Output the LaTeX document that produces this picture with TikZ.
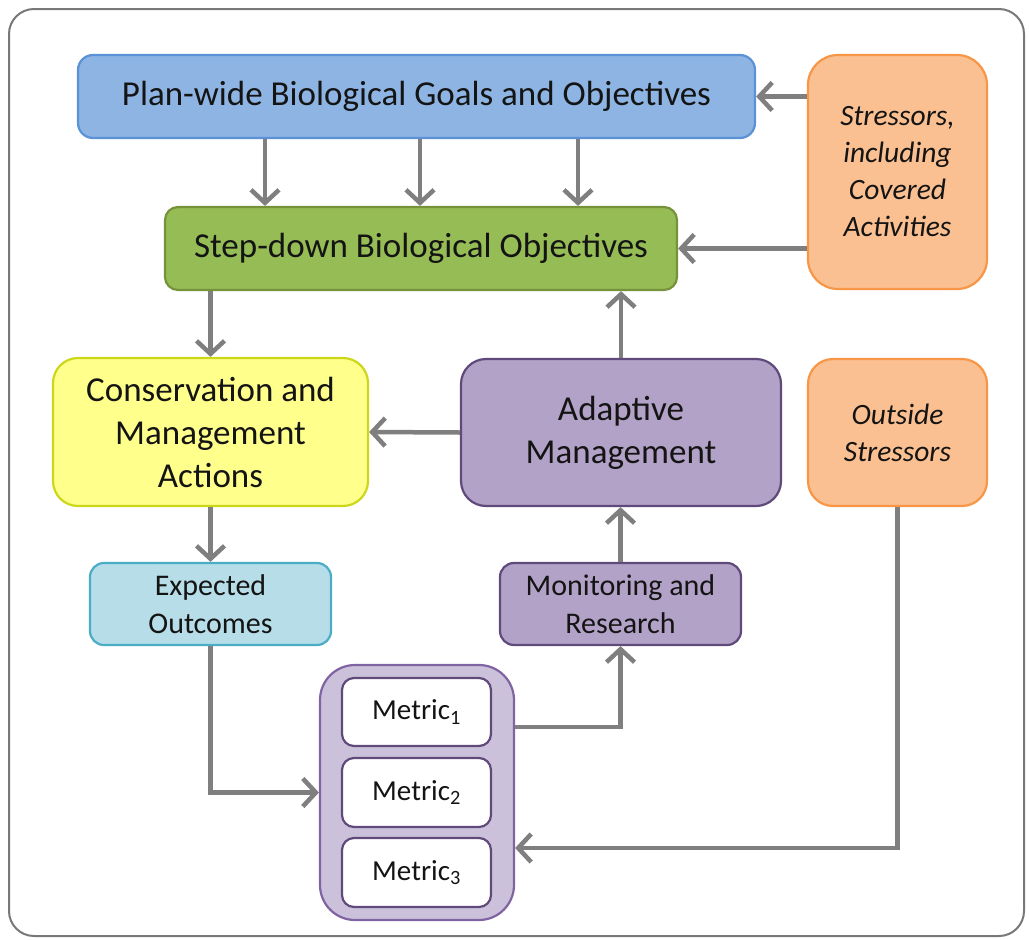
\documentclass[tikz,border=0pt]{standalone}
\usepackage{fontspec}
\setmainfont{Carlito}
\usetikzlibrary{arrows.meta}
\definecolor{bluefill}{RGB}{141,180,227}
\definecolor{blueline}{RGB}{90,145,215}
\definecolor{greenfill}{RGB}{150,188,85}
\definecolor{greenline}{RGB}{118,147,60}
\definecolor{orfill}{RGB}{250,192,145}
\definecolor{orline}{RGB}{247,150,70}
\definecolor{yefill}{RGB}{255,255,140}
\definecolor{yeline}{RGB}{205,215,25}
\definecolor{cyfill}{RGB}{183,222,232}
\definecolor{cyline}{RGB}{75,172,198}
\definecolor{pufill}{RGB}{179,162,199}
\definecolor{puline}{RGB}{96,74,123}
\definecolor{mtfill}{RGB}{204,193,218}
\definecolor{mtline}{RGB}{128,100,162}
\definecolor{arrgray}{RGB}{127,127,127}
\definecolor{framegray}{RGB}{120,120,120}
\definecolor{txt}{RGB}{20,20,20}
\tikzset{
  box/.style={draw, align=center, inner sep=0pt, line width=2.2pt, text=txt},
  sz/.style 2 args={minimum width=#1pt, minimum height=#2pt},
  big/.style={font=\fontsize{35}{43}\selectfont},
  mid/.style={font=\fontsize{30}{38}\selectfont},
  met/.style={font=\fontsize{29}{36}\selectfont},
  ital/.style={font=\fontsize{29.5}{37}\selectfont\itshape},
  arr/.style={draw=arrgray, line width=4.5pt, -{Straight Barb[length=13pt,width=28pt]}}
}
\begin{document}
\begin{tikzpicture}[x=1pt,y=-1pt]
\useasboundingbox (0,0) rectangle (1029,940);
\draw[framegray, line width=2pt, rounded corners=25pt] (9,9) rectangle (1024,936);

\node[box, big, fill=bluefill, draw=blueline, rounded corners=15pt, sz={677}{83}] (bl) at (416.5,96.5) {Plan-wide Biological Goals and Objectives};
\node[box, big, fill=greenfill, draw=greenline, rounded corners=13pt, sz={512}{83}] (gr) at (421,248.5) {Step-down Biological Objectives};
\node[box, ital, fill=orfill, draw=orline, rounded corners=30pt, sz={179}{234}] (o1) at (897.5,172) {Stressors,\\including\\Covered\\Activities};
\node[box, big, fill=yefill, draw=yeline, rounded corners=25pt, sz={315}{148}] (ye) at (210.5,432) {Conservation and\\Management\\Actions};
\node[box, big, fill=pufill, draw=puline, rounded corners=25pt, sz={320}{147}] (ad) at (621,432.5) {Adaptive\\Management};
\node[box, ital, fill=orfill, draw=orline, rounded corners=25pt, sz={179}{147}] (os) at (897.5,432.5) {Outside\\Stressors};
\node[box, mid, fill=cyfill, draw=cyline, rounded corners=14pt, sz={241}{82}] (ex) at (210.5,604) {Expected\\Outcomes};
\node[box, mid, fill=pufill, draw=puline, rounded corners=14pt, sz={241}{82}] (mo) at (620.5,604) {Monitoring and\\Research};
\node[box, fill=mtfill, draw=mtline, rounded corners=35pt, sz={194}{255}] (mt) at (417,792.5) {};
\node[box, met, fill=white, draw=puline, rounded corners=12pt, sz={149}{68}] (m1) at (416.5,712) {Metric\textsubscript{1}};
\node[box, met, fill=white, draw=puline, rounded corners=12pt, sz={149}{69}] (m2) at (416.5,792.5) {Metric\textsubscript{2}};
\node[box, met, fill=white, draw=puline, rounded corners=12pt, sz={149}{69}] (m3) at (416.5,872.5) {Metric\textsubscript{3}};

\draw[arr] (o1.west |- bl.east) -- (bl.east);
\draw[arr] (o1.west |- gr.east) -- (gr.east);
\draw[arr] (265,0 |- bl.south) -- (265,0 |- gr.north);
\draw[arr] (420,0 |- bl.south) -- (420,0 |- gr.north);
\draw[arr] (578,0 |- bl.south) -- (578,0 |- gr.north);
\draw[arr] (gr.south -| ye.north) -- (ye.north);
\draw[arr] (ad.north) -- (ad.north |- gr.south);
\draw[arr] (ad.west) -- (ye.east);
\draw[arr] (mo.north) -- (mo.north |- ad.south);
\draw[arr] (ye.south) -- (ex.north);
\draw[arr] (ex.south) |- (mt.west);
\draw[arr] (mt.east |- 0,727) -| (mo.south);
\draw[arr] (os.south) |- (mt.east |- 0,848);
\end{tikzpicture}
\end{document}
